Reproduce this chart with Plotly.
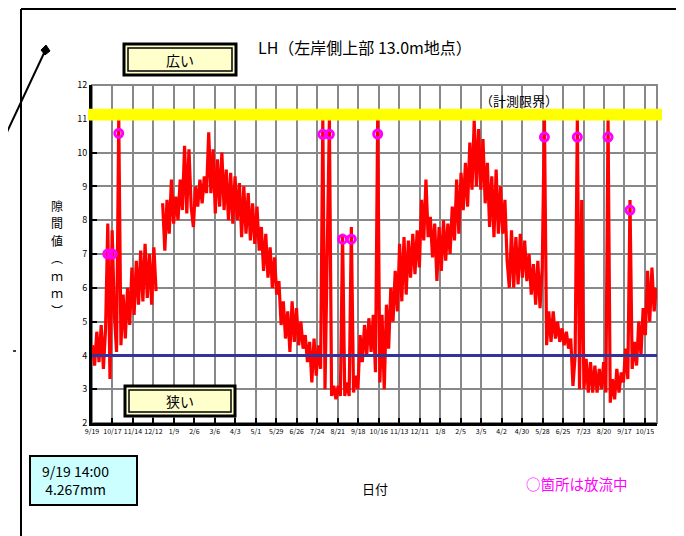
import pandas as pd
import plotly.graph_objects as go

# ---------------- data ----------------
start_time = "2020-09-19 14:00"   # first reading, then one reading every 3 days
gap_mm = [
    4.3, 3.7, 4.7, 3.8, 4.9, 3.6, 4.8,
    7.9, 3.3, 7.7, 5.2, 4.1, 11.0, 4.3,
    5.8, 4.5, 6.0, 4.9, 6.6, 5.2, 6.8, 5.5, 7.1, 5.6, 7.3, 5.7, 7.0, 5.5, 7.2, 5.9,
    None, None,
    8.5, 7.1, 8.6, 7.6, 9.2, 7.9, 8.7, 8.0, 9.2, 8.3, 10.2, 8.2, 10.1, 8.4, 7.8, 9.0,
    8.4, 9.2, 8.5, 9.3, 8.8, 10.6, 8.8, 10.1, 8.2, 9.8, 8.4, 10.0, 8.3, 9.5, 8.0, 9.4,
    7.9, 9.3, 8.0, 9.1, 7.5, 9.0, 7.6, 8.8, 7.4,
    8.5, 7.3, 8.4, 7.1, 7.8, 6.5, 7.6, 6.3, 7.2, 6.0, 6.9, 5.8, 6.2, 4.9, 5.6, 4.5,
    5.3, 4.1, 5.6, 4.4, 5.4, 4.3, 5.0, 4.2, 4.6, 3.8, 4.4, 3.2, 4.5, 3.4, 4.3, 3.6,
    11.0, 3.0, 7.8, 11.0, 2.8, 3.1, 2.7, 3.1, 2.8, 7.6, 2.8, 3.2, 2.8, 7.8, 2.9, 3.4,
    3.0, 4.6, 3.8, 4.9, 4.0, 5.1, 4.1, 5.2, 3.5, 11.0, 3.2, 5.2, 3.0,
    5.5, 4.2, 6.0, 5.0, 6.5, 5.3, 7.3, 5.6, 7.5, 5.8, 7.4, 6.3, 7.6, 6.4, 7.7, 6.6,
    8.6, 7.4, 9.2, 7.5, 8.1, 6.9, 7.9, 6.2, 7.8, 6.5, 8.0, 6.8, 7.9, 7.0, 8.4, 7.4,
    9.2, 7.6, 9.4, 8.3, 9.7, 8.4, 10.3, 8.9, 10.95, 9.0, 10.7, 8.9, 10.4, 8.5, 9.7, 7.8,
    9.3, 7.5, 9.5, 7.6, 9.0, 7.6, 8.6, 6.8,
    6.0, 7.7, 6.0, 7.5, 6.1, 7.6, 6.3, 7.4, 6.2, 7.0, 5.8, 6.7, 5.5, 6.8, 5.4, 6.6, 11.0,
    4.3, 5.3, 4.4, 5.3, 4.5, 5.0, 4.4, 4.8, 4.3, 4.7, 4.2, 4.5, 3.1, 4.0, 11.0, 3.0,
    8.6, 3.0, 3.9, 2.9, 3.8, 2.9, 3.7, 2.9, 3.6, 3.0, 3.8, 2.9, 11.0, 2.6, 3.3, 2.7,
    3.6, 2.9, 3.5, 3.2, 4.2, 3.3, 8.6, 3.6, 4.4, 3.7, 5.0, 4.0, 5.4, 4.6, 6.5, 5.0,
    6.6, 5.3, 6.0,
]

release_dates = [
    "2020-10-10 14:00", "2020-10-16 14:00", "2020-10-25 14:00",
    "2021-07-31 14:00", "2021-08-09 14:00", "2021-08-27 14:00", "2021-09-08 14:00",
    "2021-10-14 14:00", "2022-05-30 14:00", "2022-07-14 14:00", "2022-08-25 14:00",
    "2022-09-24 14:00",
]
release_mm = [7.0, 7.0, 10.57, 10.54, 10.54, 7.44, 7.44, 10.55, 10.46, 10.46, 10.46, 8.3]

tick_labels = ["9/19", "10/17", "11/14", "12/12", "1/9", "2/6", "3/6", "4/3", "5/1",
               "5/29", "6/26", "7/24", "8/21", "9/18", "10/16", "11/13", "12/11",
               "1/8", "2/5", "3/5", "4/2", "4/30", "5/28", "6/25", "7/23", "8/20",
               "9/17", "10/15"]
y_ticks = [2, 3, 4, 5, 6, 7, 8, 9, 10, 11, 12]
y_title_chars = ["隙", "間", "値", "︵", "ｍ", "ｍ", "︶"]

limit_low, limit_high = 10.95, 11.3   # measurement limit band
threshold_mm = 4.0

# ---------------- figure ----------------
OFF = 8                      # page body margin
W, H = 684 - OFF, 536 - OFF
PL, PT, PR, PB = 92, 85, 657, 423       # plot area in screen pixels
L, T = PL - OFF, PT - OFF
R = W - (PR - OFF)
B = H - (PB - OFF)
PW, PH = PR - PL, PB - PT


def px(x):
    return (x - PL) / PW


def py(y):
    return (PB - y) / PH


dates = pd.date_range(start_time, periods=len(gap_mm), freq="3D")
tickvals = pd.date_range("2020-09-19", periods=len(tick_labels), freq="28D")

FONT = "Noto Sans CJK JP"

fig = go.Figure()
fig.add_trace(go.Scatter(
    x=dates, y=gap_mm, mode="lines",
    line=dict(color="#FF0000", width=3.2), connectgaps=False,
    hoverinfo="skip", showlegend=False,
))
fig.add_trace(go.Scatter(
    x=pd.to_datetime(release_dates), y=release_mm, mode="markers",
    marker=dict(symbol="circle-open", size=8, color="#FF00FF",
                line=dict(width=3, color="#FF00FF")),
    hoverinfo="skip", showlegend=False,
))

shapes = []
shapes.append(dict(type="rect", xref="paper", yref="paper", x0=0, x1=1, y0=0, y1=1,
                   line=dict(color="#888888", width=2), layer="below"))
shapes.append(dict(type="rect", xref="paper", yref="y", x0=px(88), x1=px(662),
                   y0=limit_low, y1=limit_high, fillcolor="#FFFF00",
                   line=dict(width=0), layer="above"))
shapes.append(dict(type="line", xref="paper", yref="y", x0=0, x1=1,
                   y0=threshold_mm, y1=threshold_mm,
                   line=dict(color="#333399", width=3), layer="above"))


def box(x0, y0, x1, y1, fill):
    shapes.append(dict(type="rect", xref="paper", yref="paper",
                       x0=px(x0), x1=px(x1), y0=py(y1), y1=py(y0),
                       fillcolor=fill, line=dict(color="black", width=3), layer="above"))
    shapes.append(dict(type="rect", xref="paper", yref="paper",
                       x0=px(x0 + 4), x1=px(x1 - 4), y0=py(y1 - 4), y1=py(y0 + 4),
                       line=dict(color="black", width=1.5), layer="above"))


box(124, 44, 236, 75, "#FFFFCC")
box(125, 386, 235, 416, "#FFFFCC")

shapes.append(dict(type="rect", xref="paper", yref="paper",
                   x0=px(30), x1=px(137), y0=py(505), y1=py(456),
                   fillcolor="#CCFFFF", line=dict(color="black", width=2), layer="above"))
# outer frame
shapes.append(dict(type="line", xref="paper", yref="paper", x0=px(21), x1=px(684),
                   y0=py(9), y1=py(9), line=dict(color="black", width=2)))
shapes.append(dict(type="line", xref="paper", yref="paper", x0=px(21), x1=px(21),
                   y0=py(9), y1=py(540), line=dict(color="black", width=2)))
shapes.append(dict(type="line", xref="paper", yref="paper", x0=px(682.5), x1=px(682.5),
                   y0=py(9), y1=py(540), line=dict(color="#444444", width=1)))
# pointer line with square head
shapes.append(dict(type="line", xref="paper", yref="paper", x0=px(0), x1=px(45),
                   y0=py(147), y1=py(51), line=dict(color="black", width=2)))
pts = [(41, 50), (46, 45), (50, 51), (45, 55)]
path = "M " + " L ".join(f"{px(a):.5f},{py(b):.5f}" for a, b in pts) + " Z"
shapes.append(dict(type="path", xref="paper", yref="paper", path=path,
                   fillcolor="black", line=dict(color="black", width=1)))
shapes.append(dict(type="line", xref="paper", yref="paper", x0=px(13), x1=px(16),
                   y0=py(351), y1=py(351), line=dict(color="black", width=1.5)))

ann = []


def text(x, y, s, size, color="black", xanchor="center", align="center"):
    ann.append(dict(x=px(x), y=py(y), xref="paper", yref="paper", text=s,
                    showarrow=False, xanchor=xanchor, yanchor="middle", align=align,
                    borderpad=0, font=dict(family=FONT, size=size, color=color)))


text(365, 47, "LH（左岸側上部 13.0m地点）", 16)
text(519, 100, "（計測限界）", 13)
text(180, 60, "広い", 14)
text(180, 401, "狭い", 14)
text(375, 489, "日付", 13)
text(577, 483, "○箇所は放流中", 14.5, color="#FF00FF")
text(41, 480, "9/19 14:00<br> 4.267mm", 14, xanchor="left", align="left")
for i, ch in enumerate(y_title_chars):
    text(57, 205 + i * 17.5, ch, 12)

fig.update_layout(
    width=W, height=H, margin=dict(l=L, r=R, t=T, b=B),
    paper_bgcolor="white", plot_bgcolor="white",
    font=dict(family=FONT, color="black"),
    shapes=shapes, annotations=ann, showlegend=False,
)
fig.update_xaxes(
    type="date", range=["2020-09-19", "2022-10-31 12:00"],
    tickmode="array", tickvals=tickvals, ticktext=tick_labels,
    tickfont=dict(size=7, family="Liberation Sans Narrow, Noto Sans CJK JP"), tickangle=0,
    showgrid=True, gridcolor="#888888", gridwidth=2,
    showline=True, linecolor="black", linewidth=3,
    ticks="inside", ticklen=5, tickwidth=2, tickcolor="black",
    zeroline=False,
)
fig.update_yaxes(
    range=[2, 12], tickmode="array", tickvals=y_ticks,
    tickfont=dict(size=9),
    showgrid=True, gridcolor="#888888", gridwidth=2,
    showline=True, linecolor="black", linewidth=3,
    ticks="inside", ticklen=5, tickwidth=2, tickcolor="black",
    zeroline=False,
)

fig.write_html("out.html")
